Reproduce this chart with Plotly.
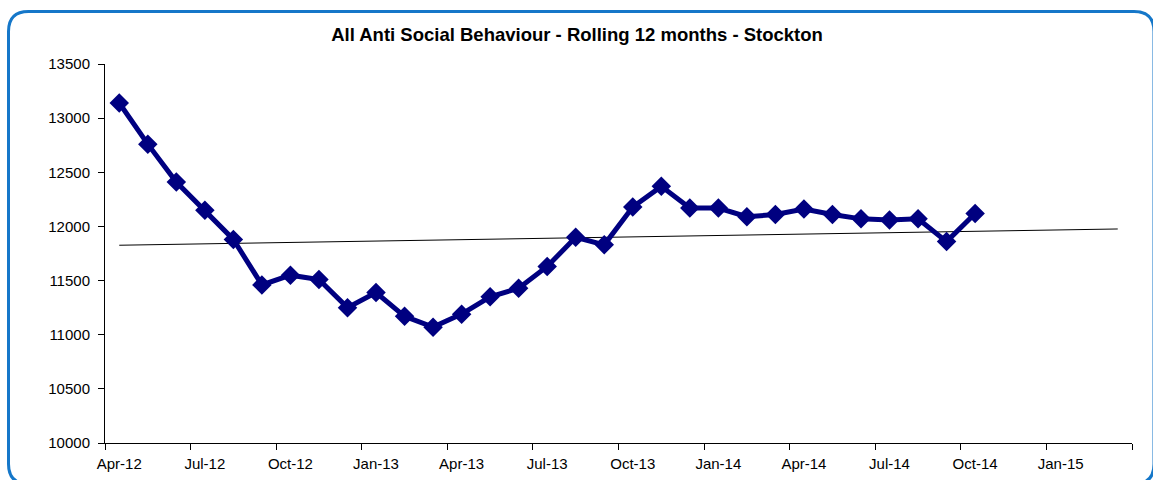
import numpy as np
import plotly.graph_objects as go

# ---- data ----
months = ["Apr-12", "May-12", "Jun-12", "Jul-12", "Aug-12", "Sep-12", "Oct-12", "Nov-12", "Dec-12",
          "Jan-13", "Feb-13", "Mar-13", "Apr-13", "May-13", "Jun-13", "Jul-13", "Aug-13", "Sep-13",
          "Oct-13", "Nov-13", "Dec-13", "Jan-14", "Feb-14", "Mar-14", "Apr-14", "May-14", "Jun-14",
          "Jul-14", "Aug-14", "Sep-14", "Oct-14"]
asb_values = [13140, 12760, 12410, 12150, 11880, 11460, 11550, 11510, 11250,
              11390, 11170, 11070, 11190, 11350, 11430, 11630, 11900, 11830,
              12180, 12370, 12170, 12170, 12090, 12110, 12160, 12110, 12070,
              12060, 12070, 11860, 12120]
axis_months = months + ["Nov-14", "Dec-14", "Jan-15", "Feb-15", "Mar-15"]
tick_labels = ["Apr-12", "Jul-12", "Oct-12", "Jan-13", "Apr-13", "Jul-13", "Oct-13",
               "Jan-14", "Apr-14", "Jul-14", "Oct-14", "Jan-15"]
title_text = "All Anti Social Behaviour - Rolling 12 months - Stockton"

# ---- positions ----
x_idx = np.arange(len(asb_values))
all_idx = np.arange(len(axis_months))
slope, intercept = np.polyfit(x_idx, asb_values, 1)
trend = intercept + slope * all_idx
tick_pos = [axis_months.index(t) for t in tick_labels]

W, H = 1153, 480
L, R, T, B = 105, 21, 64, 37
pw, ph = W - L - R, H - T - B

def px(x):
    return (x - L) / pw

def py(y):
    return (H - B - y) / ph

FONT = "Liberation Sans, Arial, sans-serif"

fig = go.Figure()
fig.add_trace(go.Scatter(x=all_idx, y=trend, mode="lines",
                         line=dict(color="black", width=1), hoverinfo="skip",
                         showlegend=False))
fig.add_trace(go.Scatter(x=x_idx, y=asb_values, mode="lines+markers",
                         line=dict(color="#000080", width=5),
                         marker=dict(symbol="diamond", size=15, color="#000080"),
                         text=months, showlegend=False))
# invisible trace on second axis for tick marks
fig.add_trace(go.Scatter(x=[all_idx[0]], y=[asb_values[0]], xaxis="x2",
                         mode="markers", marker=dict(opacity=0), hoverinfo="skip",
                         showlegend=False))

# rounded border of chart area
x0, x1, y0, y1, r = px(8.5), px(1154), py(11.5), py(484), 20
rx, ry = r / pw, r / ph
path = (f"M {x0+rx},{y0} L {x1-rx},{y0} Q {x1},{y0} {x1},{y0-ry} "
        f"L {x1},{y1+ry} Q {x1},{y1} {x1-rx},{y1} L {x0+rx},{y1} "
        f"Q {x0},{y1} {x0},{y1+ry} L {x0},{y0-ry} Q {x0},{y0} {x0+rx},{y0} Z")

fig.update_layout(
    width=W, height=H,
    margin=dict(l=L, r=R, t=T, b=B, autoexpand=False),
    paper_bgcolor="white", plot_bgcolor="white",
    font=dict(family=FONT, size=15, color="black"),
    title=dict(text=f"<b>{title_text}</b>", x=577 / W, xanchor="center",
               y=1 - 35 / H, yanchor="middle", font=dict(size=18.5, color="black")),
    xaxis=dict(range=[-0.5, len(axis_months) - 0.5], tickvals=tick_pos, ticktext=tick_labels,
               ticks="outside", ticklen=6, tickcolor="rgba(0,0,0,0)",
               ticklabelstandoff=1, automargin=False,
               showgrid=False, zeroline=False, showline=True,
               linecolor="black", linewidth=1, tickfont=dict(size=15)),
    xaxis2=dict(range=[-0.5, len(axis_months) - 0.5], overlaying="x", side="bottom",
                tickvals=list(np.arange(-0.5, len(axis_months), 3)),
                ticktext=[""] * 13, ticks="outside", ticklen=6, tickcolor="black",
                automargin=False, showgrid=False, zeroline=False, showline=False),
    yaxis=dict(range=[10000, 13500], dtick=500, tickformat="d", ticks="outside", ticklen=6,
               tickcolor="black", ticklabelstandoff=5, automargin=False,
               showgrid=False, zeroline=False,
               showline=True, linecolor="black", linewidth=1, tickfont=dict(size=15)),
    shapes=[dict(type="path", path=path, xref="paper", yref="paper",
                 line=dict(color="#1577C9", width=3), layer="above")],
)

fig.write_html("out.html")
